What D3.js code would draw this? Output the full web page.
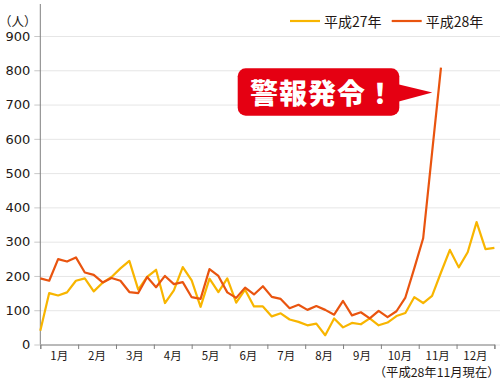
<!DOCTYPE html>
<html><head><meta charset="utf-8">
<script src="https://cdn.jsdelivr.net/npm/d3@7"></script>
<style>
html,body{margin:0;padding:0;background:#fff;}
svg{display:block;}
</style></head>
<body>
<svg id="chart" width="500" height="381"></svg>
<script>
// ---- data ----
const months = ["1月","2月","3月","4月","5月","6月","7月","8月","9月","10月","11月","12月"];
const yTicks = [0,100,200,300,400,500,600,700,800,900];
const seriesNames = ["平成27年","平成28年"];
const h27 = [40,150,143,152,186,193,155,180,197,222,244,160,197,218,121,158,226,187,110,192,153,193,122,160,111,111,82,91,73,66,56,61,27,76,50,63,59,76,56,64,83,92,138,121,142,210,276,225,269,357,278,282];
const h28 = [193,186,249,242,254,210,203,181,194,186,153,150,197,167,200,176,182,138,133,220,200,152,136,166,146,170,139,133,106,116,101,112,101,87,127,85,94,76,98,80,97,137,222,310,560,808];
const unitLabel = "（人）";
const noteLabel = "（平成28年11月現在）";
const calloutText = "警報発令！";

const colors = {h27:"#f8b500", h28:"#e9540f", call:"#e50012", grid:"#e6e6e6", axis:"#808080", text:"#231815"};

const svg = d3.select("#chart");
const pL = 40.3, pR = 494.4, pT = 36, pB = 344.5;

const y = d3.scaleLinear().domain([0,900]).range([pB, pT]);
const xw = d3.scaleLinear().domain([0,51]).range([pL, pR]);
const xm = d3.scaleLinear().domain([0,12]).range([pL, pR]);

// gridlines
const grid = svg.append("g").attr("transform",`translate(${pL},0)`)
  .call(d3.axisRight(y).tickValues(yTicks).tickSize(500-pL).tickFormat(""));
grid.select(".domain").remove();
grid.selectAll("line").attr("stroke",colors.grid).attr("stroke-width",1);

// y axis
const ya = svg.append("g").attr("transform",`translate(${pL},0)`)
  .call(d3.axisLeft(y).tickValues(yTicks).tickSize(6).tickPadding(4));
ya.select(".domain").remove();
ya.selectAll("line").attr("stroke","#c8c8c8");
ya.selectAll("text").attr("font-family","DejaVu Sans, sans-serif").attr("font-size",13).attr("fill",colors.text);
svg.append("line").attr("x1",pL).attr("x2",pL).attr("y1",4).attr("y2",pB)
  .attr("stroke",colors.axis).attr("stroke-width",1);

// x axis
const xa = svg.append("g").attr("transform",`translate(0,${pB})`)
  .call(d3.axisBottom(xm).tickValues(d3.range(13)).tickSize(4.5).tickFormat(""));
xa.select(".domain").attr("stroke",colors.axis);
xa.selectAll("line").attr("stroke",colors.axis);

svg.append("g").selectAll("text").data(months).join("text")
  .attr("x",(d,i)=>xm(i+0.5)).attr("y",359.5)
  .attr("text-anchor","middle")
  .attr("font-family","Noto Sans CJK JP, sans-serif").attr("font-size",11.5)
  .attr("fill",colors.text).text(d=>d);

// lines
const line = d3.line().x((d,i)=>xw(i)).y(d=>y(d));
svg.append("path").datum(h27).attr("d",line).attr("fill","none")
  .attr("stroke",colors.h27).attr("stroke-width",2.2).attr("stroke-linejoin","round");
svg.append("path").datum(h28).attr("d",line).attr("fill","none")
  .attr("stroke",colors.h28).attr("stroke-width",2.2).attr("stroke-linejoin","round");

// unit label
svg.append("text").attr("x",-1).attr("y",26).attr("font-family","Noto Sans CJK JP, sans-serif")
  .attr("font-size",12.5).attr("fill",colors.text).text(unitLabel);

// note
svg.append("text").attr("x",499.5).attr("y",377).attr("text-anchor","end")
  .attr("font-family","Noto Sans CJK JP, sans-serif").attr("font-size",12.3)
  .attr("fill",colors.text).text(noteLabel);

// legend
const legend = [{name:seriesNames[0], c:colors.h27, x:290},{name:seriesNames[1], c:colors.h28, x:391.7}];
const lg = svg.append("g").selectAll("g").data(legend).join("g");
lg.append("line").attr("x1",d=>d.x).attr("x2",d=>d.x+30).attr("y1",21).attr("y2",21)
  .attr("stroke",d=>d.c).attr("stroke-width",2.2);
lg.append("text").attr("x",d=>d.x+34).attr("y",26.5).attr("font-family","Noto Sans CJK JP, sans-serif")
  .attr("font-size",14).attr("fill",colors.text).text(d=>d.name);

// callout
const cg = svg.append("g");
cg.append("rect").attr("x",237.7).attr("y",68.3).attr("width",161.6).attr("height",47.4).attr("rx",8)
  .attr("fill",colors.call);
cg.append("path").attr("d","M397,84 L432.3,92.5 L397,102 Z").attr("fill",colors.call);
cg.append("text").attr("x",250).attr("y",92).attr("dominant-baseline","central")
  .attr("font-family","Noto Sans CJK JP, sans-serif").attr("font-weight",900).attr("font-size",28)
  .attr("letter-spacing",1).attr("fill","#fff").text(calloutText);
</script>
</body></html>
